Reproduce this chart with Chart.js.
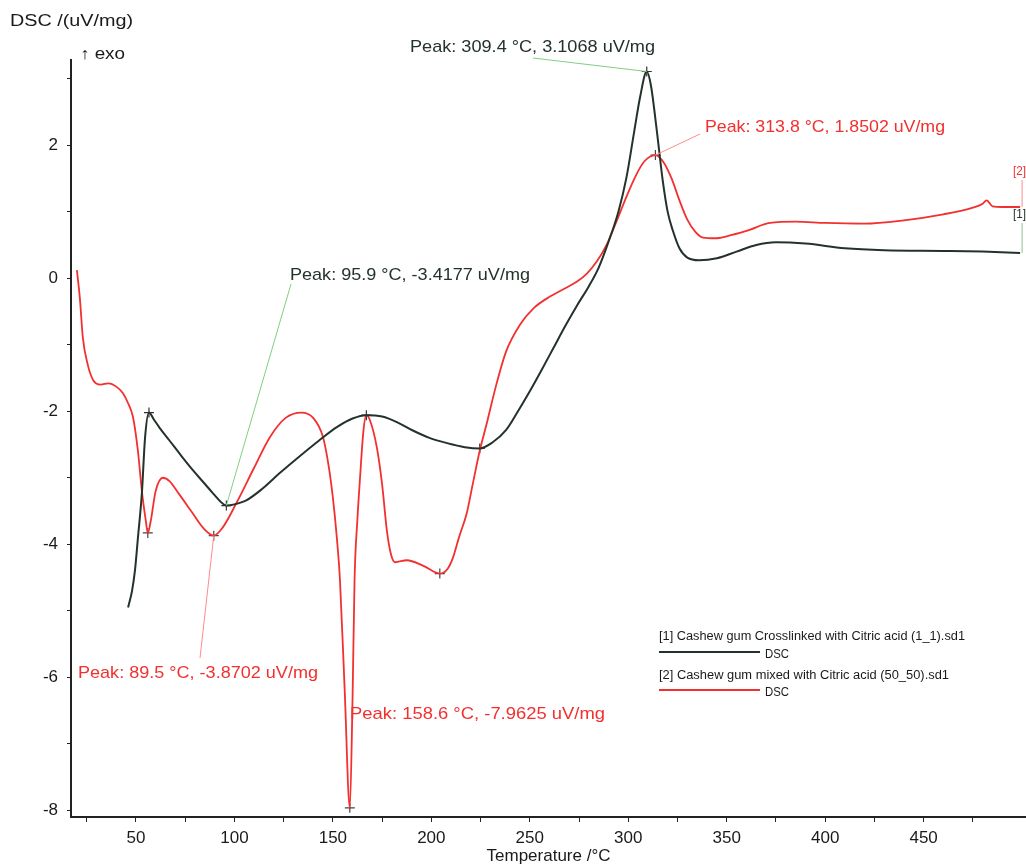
<!DOCTYPE html>
<html>
<head>
<meta charset="utf-8">
<title>DSC curves</title>
<script src="https://cdn.jsdelivr.net/npm/chart.js@4.4.1/dist/chart.umd.min.js"></script>
<style>
  html, body { margin: 0; padding: 0; background: #fff; }
  canvas { display: block; }
</style>
</head>
<body>
<canvas id="dscChart" width="1026" height="867"></canvas>
<script>
// [1] Cashew gum crosslinked with citric acid (dark trace)
const tempCrosslinked = [46, 48, 49.5, 51, 53, 54.6, 56.6, 59, 62, 67, 73, 79, 84, 89, 93, 95.9, 100, 106, 114, 123, 133, 143, 152, 160, 167, 175, 183, 190.6, 199, 208, 217, 224.6, 231, 238, 244, 250, 256, 262, 268, 274, 280, 285, 290, 295, 299, 303, 306, 309.4, 311.5, 314.5, 317.5, 320, 322.6, 326, 330, 336, 345, 355, 365, 375, 390, 410, 430, 460, 480, 499];
const dscCrosslinked = [-4.95, -4.7, -4.39, -3.9, -3.23, -2.4, -2.02, -2.12, -2.25, -2.44, -2.67, -2.89, -3.06, -3.23, -3.36, -3.4177, -3.4, -3.34, -3.17, -2.93, -2.68, -2.44, -2.24, -2.11, -2.06, -2.08, -2.17, -2.29, -2.4, -2.48, -2.54, -2.56, -2.47, -2.28, -2.0, -1.7, -1.38, -1.05, -0.72, -0.41, -0.12, 0.16, 0.55, 1.0, 1.5, 2.2, 2.72, 3.1068, 2.9, 2.22, 1.47, 1.0, 0.72, 0.45, 0.31, 0.27, 0.3, 0.4, 0.5, 0.54, 0.52, 0.45, 0.42, 0.41, 0.4, 0.38];

// [2] Cashew gum mixed with citric acid (red trace)
const tempMixed = [20, 21.5, 23, 25.5, 28.2, 32, 36, 40, 43.4, 46, 48.5, 51, 53, 55, 56, 57.5, 60, 63.7, 67, 72, 78, 84, 89.5, 94, 101, 110, 118, 126, 134, 140, 145, 148, 150, 152, 153.6, 156, 158.6, 160, 161, 162.5, 163.7, 165.5, 167, 169, 172.3, 175, 177.4, 179.5, 181.5, 187.6, 195.7, 204.3, 208, 211, 214, 218, 221, 224.6, 228, 233, 238, 245, 252, 260, 268, 274, 279, 284, 289, 294, 299, 304, 308, 313.8, 318, 322, 326, 330, 334, 338, 344, 350, 360, 372, 385, 400, 420, 440, 460, 475, 480, 482, 485, 490, 499];
const dscMixed = [0.12, -0.3, -0.89, -1.3, -1.53, -1.6, -1.58, -1.63, -1.73, -1.88, -2.09, -2.6, -3.2, -3.65, -3.83, -3.65, -3.2, -3.0, -3.05, -3.25, -3.5, -3.75, -3.8702, -3.75, -3.38, -2.85, -2.39, -2.1, -2.02, -2.1, -2.39, -2.85, -3.3, -3.9, -4.54, -6.2, -7.9625, -6.3, -4.54, -3.6, -3.04, -2.3, -2.06, -2.15, -2.54, -3.1, -3.79, -4.15, -4.27, -4.24, -4.32, -4.44, -4.38, -4.2, -3.9, -3.53, -3.1, -2.59, -2.2, -1.6, -1.1, -0.7, -0.45, -0.28, -0.15, -0.05, 0.07, 0.25, 0.5, 0.85, 1.22, 1.55, 1.75, 1.8502, 1.74, 1.5, 1.17, 0.88, 0.7, 0.61, 0.6, 0.63, 0.71, 0.83, 0.85, 0.83, 0.82, 0.87, 0.96, 1.06, 1.12, 1.17, 1.08, 1.07, 1.07];

// evaluated peaks (marked with +)
const peakTempCrosslinked = [56.6, 95.9, 167, 224.6, 309.4];
const peakDscCrosslinked = [-2.02, -3.4177, -2.06, -2.56, 3.1068];
const peakTempMixed = [56, 89.5, 158.6, 204.3, 313.8];
const peakDscMixed = [-3.83, -3.8702, -7.9625, -4.44, 1.8502];

const xTicks = [25, 50, 75, 100, 125, 150, 175, 200, 225, 250, 275, 300, 325, 350, 375, 400, 425, 450, 475];
const xTickLabels = [50, 100, 150, 200, 250, 300, 350, 400, 450];
const yTicks = [-8, -7, -6, -5, -4, -3, -2, -1, 0, 1, 2, 3];
const yTickLabels = [-8, -6, -4, -2, 0, 2];

const GREEN = '#24332a';
const RED = '#f2302f';
const FONT = "'Liberation Sans', Arial, Helvetica, sans-serif";

const toPoints = (xs, ys) => xs.map((t, i) => ({ x: t, y: ys[i] }));

// text squeezed to a given width (the original uses a narrow font)
const drawText = (ctx, str, x, y, size, width, color) => {
    ctx.font = size + 'px ' + FONT;
    const w = ctx.measureText(str).width;
    ctx.save();
    ctx.fillStyle = color;
    ctx.textBaseline = 'middle';
    ctx.translate(x, y);
    ctx.scale(width / w, 1);
    ctx.fillText(str, 0, 0);
    ctx.restore();
};

const peakNotes = [
    { t: 309.4, v: 3.1068, text: 'Peak: 309.4 °C, 3.1068 uV/mg', color: GREEN, lead: '#7fcf7f', tx: 410, ty: 47, w: 245, from: [533, 58] },
    { t: 313.8, v: 1.8502, text: 'Peak: 313.8 °C, 1.8502 uV/mg', color: RED, lead: '#ff8a8a', tx: 705, ty: 127, w: 240, from: [700, 134] },
    { t: 95.9, v: -3.4177, text: 'Peak: 95.9 °C, -3.4177 uV/mg', color: GREEN, lead: '#7fcf7f', tx: 290, ty: 275, w: 240, from: [291, 284] },
    { t: 89.5, v: -3.8702, text: 'Peak: 89.5 °C, -3.8702 uV/mg', color: RED, lead: '#ff8a8a', tx: 78, ty: 673, w: 240, from: [200, 658] },
    { t: 158.6, v: -7.9625, text: 'Peak: 158.6 °C, -7.9625 uV/mg', color: RED, lead: null, tx: 350, ty: 714, w: 255, from: null }
];

const annotations = {
    id: 'annotations',
    afterDatasetsDraw(chart) {
        const { ctx, scales: { x, y } } = chart;

        // leader lines from the labels to the peaks
        peakNotes.forEach(n => {
            if (!n.lead) return;
            ctx.save();
            ctx.strokeStyle = n.lead;
            ctx.lineWidth = 1;
            ctx.beginPath();
            ctx.moveTo(n.from[0], n.from[1]);
            ctx.lineTo(x.getPixelForValue(n.t), y.getPixelForValue(n.v));
            ctx.stroke();
            ctx.restore();
        });
        peakNotes.forEach(n => drawText(ctx, n.text, n.tx, n.ty, 17, n.w, n.color));

        // axis title on top of the y axis
        drawText(ctx, 'DSC /(uV/mg)', 10, 22, 16, 123, '#1a1a1a');
        drawText(ctx, '\u2191 exo', 80, 55, 16, 45, '#1a1a1a');

        // curve tags at the right end
        const endT = tempCrosslinked[tempCrosslinked.length - 1];
        const xe = x.getPixelForValue(endT) + 2;
        ctx.save();
        ctx.lineWidth = 1;
        ctx.strokeStyle = '#ff8a8a';
        ctx.beginPath();
        ctx.moveTo(xe, 180);
        ctx.lineTo(xe, y.getPixelForValue(dscMixed[dscMixed.length - 1]));
        ctx.stroke();
        ctx.strokeStyle = '#8fbf8f';
        ctx.beginPath();
        ctx.moveTo(xe, 223);
        ctx.lineTo(xe, y.getPixelForValue(dscCrosslinked[dscCrosslinked.length - 1]));
        ctx.stroke();
        ctx.restore();
        drawText(ctx, '[2]', 1013, 172, 12, 13, RED);
        drawText(ctx, '[1]', 1013, 215, 12, 13, GREEN);

        // legend box text
        drawText(ctx, '[1] Cashew gum Crosslinked with Citric acid (1_1).sd1', 659, 637, 12, 306, '#1a1a1a');
        drawText(ctx, '[2] Cashew gum mixed with Citric acid (50_50).sd1', 659, 676, 12, 290, '#1a1a1a');
        ctx.save();
        ctx.lineWidth = 2;
        ctx.strokeStyle = GREEN;
        ctx.beginPath();
        ctx.moveTo(659, 652);
        ctx.lineTo(760, 652);
        ctx.stroke();
        ctx.strokeStyle = RED;
        ctx.beginPath();
        ctx.moveTo(659, 690);
        ctx.lineTo(760, 690);
        ctx.stroke();
        ctx.restore();
        drawText(ctx, 'DSC', 765, 654, 13, 24, '#1a1a1a');
        drawText(ctx, 'DSC', 765, 692, 13, 24, '#1a1a1a');
    }
};

Chart.defaults.font.family = FONT;

const ctx = document.getElementById('dscChart').getContext('2d');
new Chart(ctx, {
    type: 'scatter',
    data: {
        datasets: [
            {
                label: 'DSC [1]',
                data: toPoints(tempCrosslinked, dscCrosslinked),
                showLine: true,
                borderColor: GREEN,
                borderWidth: 2,
                pointRadius: 0,
                cubicInterpolationMode: 'monotone'
            },
            {
                label: 'DSC [2]',
                data: toPoints(tempMixed, dscMixed),
                showLine: true,
                borderColor: RED,
                borderWidth: 1.8,
                pointRadius: 0,
                cubicInterpolationMode: 'monotone'
            },
            {
                label: 'peaks [1]',
                data: toPoints(peakTempCrosslinked, peakDscCrosslinked),
                showLine: false,
                pointStyle: 'cross',
                pointRadius: 5,
                borderColor: '#333',
                borderWidth: 1.2
            },
            {
                label: 'peaks [2]',
                data: toPoints(peakTempMixed, peakDscMixed),
                showLine: false,
                pointStyle: 'cross',
                pointRadius: 5,
                borderColor: '#444',
                borderWidth: 1.2
            }
        ]
    },
    options: {
        responsive: false,
        animation: false,
        // no automatic padding for the peak markers, the plot runs to the right edge
        layout: { autoPadding: false, padding: { top: 60, right: 0, bottom: 0, left: 0 } },
        plugins: {
            legend: { display: false },
            tooltip: { enabled: false }
        },
        scales: {
            x: {
                type: 'linear',
                min: 17,
                max: 502,
                afterBuildTicks: scale => { scale.ticks = xTicks.map(v => ({ value: v })); },
                afterFit: scale => { scale.height = 50; },
                border: { color: '#222', width: 2 },
                grid: { drawOnChartArea: false, drawTicks: true, tickLength: 5, color: '#222' },
                ticks: {
                    autoSkip: false,
                    maxRotation: 0,
                    padding: 6,
                    color: '#1a1a1a',
                    font: { size: 17 },
                    callback: v => xTickLabels.includes(v) ? String(v) : ''
                },
                title: {
                    display: true,
                    text: 'Temperature /°C',
                    color: '#1a1a1a',
                    font: { size: 17 },
                    padding: { top: 0, bottom: 0 }
                }
            },
            y: {
                type: 'linear',
                min: -8.1,
                max: 3.28,
                afterBuildTicks: scale => { scale.ticks = yTicks.map(v => ({ value: v })); },
                afterFit: scale => { scale.width = 71; },
                border: { color: '#222', width: 2 },
                grid: { drawOnChartArea: false, drawTicks: true, tickLength: 4, color: '#222' },
                ticks: {
                    autoSkip: false,
                    padding: 9,
                    color: '#1a1a1a',
                    font: { size: 17 },
                    callback: v => yTickLabels.includes(v) ? String(v) : ''
                }
            }
        }
    },
    plugins: [annotations]
});
</script>
</body>
</html>
